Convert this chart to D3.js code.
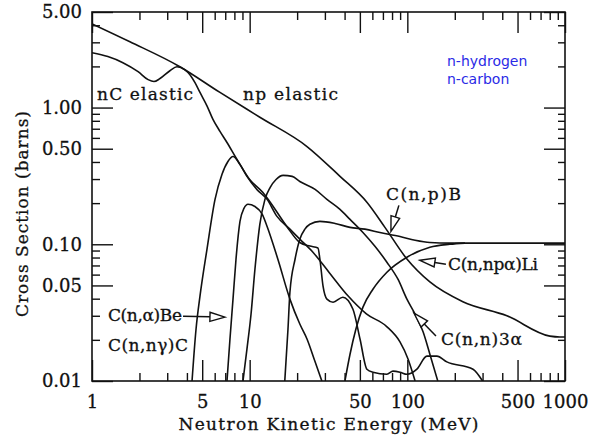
<!DOCTYPE html>
<html>
<head>
<meta charset="utf-8">
<script src="https://cdn.jsdelivr.net/npm/d3@7"></script>
<style>
  body { margin: 0; background: #fff; }
  text { font-family: "DejaVu Serif", "Liberation Serif", "Noto Serif", "FreeSerif", serif; fill: #111; stroke: #111; stroke-width: 0.3px; }
  .curve { fill: none; stroke: #111; stroke-width: 1.6px; }
  .tick line { stroke: #111; stroke-width: 1.4px; }
  .legend text { font-family: "DejaVu Sans", sans-serif; fill: #2a2ae6; stroke: none; font-size: 14px; }
</style>
</head>
<body>
<div id="chart"></div>
<script>
// Cross sections in barns vs neutron energy in MeV: [E, sigma]
var npElastic = [[1, 4.1], [1.74, 3.03], [3.61, 1.99], [6.48, 1.29], [11.6, 0.85], [23.1, 0.519],
  [37.4, 0.314], [55.4, 0.203], [72.1, 0.133], [99.4, 0.078], [139, 0.053], [225, 0.038],
  [428, 0.030], [802, 0.0213], [928, 0.021], [1000, 0.021]];

var nCElastic = [[1, 2.52], [1.26, 2.36], [1.57, 2.13], [1.96, 1.83], [2.27, 1.6], [2.47, 1.55],
  [2.7, 1.63], [3.12, 1.86], [3.46, 1.99], [3.89, 1.89], [4.18, 1.74], [4.5, 1.52], [4.84, 1.29],
  [5.36, 1.03], [5.85, 0.82], [6.48, 0.67], [7.18, 0.555], [8.31, 0.417], [10.0, 0.298],
  [12.1, 0.24], [13.5, 0.203], [17.2, 0.135], [20.8, 0.103], [24.1, 0.097], [27.1, 0.094],
  [27.9, 0.0777], [29.2, 0.0494], [30.9, 0.0397], [33.8, 0.0377], [39.0, 0.041], [45.2, 0.0335],
  [50.1, 0.0203], [55.4, 0.0122], [60.5, 0.0116], [74.2, 0.0112], [81.1, 0.0118], [89.8, 0.0116],
  [99.4, 0.0112], [115, 0.0122], [133, 0.0152], [154, 0.0152], [178, 0.0138], [261, 0.0122],
  [300, 0.01]];

var cnGamma = [[4.31, 0.01], [4.57, 0.024], [4.84, 0.0417], [5.36, 0.0919], [6.03, 0.213],
  [6.67, 0.324], [7.28, 0.4035], [7.84, 0.439], [8.68, 0.384], [9.61, 0.314], [11.1, 0.252],
  [12.9, 0.213], [14.9, 0.16], [18.0, 0.129], [20.8, 0.109], [25.2, 0.0874], [32, 0.062],
  [42, 0.042], [55, 0.031], [74, 0.025], [89.8, 0.0193], [101, 0.0145], [112, 0.01]];

var cAlphaBe = [[7.18, 0.01], [7.5, 0.0203], [7.84, 0.0397], [8.19, 0.0777], [8.68, 0.147],
  [9.2, 0.183], [9.76, 0.196], [10.8, 0.189], [12.0, 0.166], [12.9, 0.135], [15.1, 0.0777],
  [18.0, 0.0397], [20.8, 0.0261], [23.1, 0.0203], [25.9, 0.014], [28.7, 0.01]];

var cn3Alpha = [[9.07, 0.01], [9.61, 0.0171], [10.2, 0.0308], [10.8, 0.0657], [11.6, 0.14],
  [12.5, 0.213], [13.5, 0.261], [14.7, 0.298], [16.3, 0.319], [18.6, 0.314], [20.8, 0.288],
  [26.0, 0.252], [30.9, 0.213], [37.4, 0.18], [43.3, 0.152], [52.3, 0.122], [62.3, 0.0967],
  [74.2, 0.0739], [87.2, 0.0555], [99.4, 0.0397], [112, 0.0308], [126, 0.0228], [139, 0.0157],
  [156, 0.01]];

var cnpB = [[16.7, 0.01], [17.5, 0.024], [18.0, 0.0446], [19.4, 0.0777], [20.8, 0.109],
  [22.4, 0.129], [24.1, 0.14], [27.9, 0.147], [34.8, 0.142], [43.3, 0.133], [53.8, 0.129],
  [67, 0.122], [89.8, 0.114], [112, 0.107], [139, 0.103], [186, 0.102], [1000, 0.102]];

var cnpaLi = [[40.2, 0.01], [43.3, 0.0157], [47.2, 0.024], [52.3, 0.0347], [60.5, 0.0469],
  [74.2, 0.0625], [99.4, 0.0804], [139, 0.0951], [186, 0.1], [232, 0.102]];

var curves = [npElastic, nCElastic, cnGamma, cAlphaBe, cn3Alpha, cnpB, cnpaLi];

// labels: text, E, sigma at text start / baseline
var labels = [
  ["nC elastic", 1.076, 1.144], ["np elastic", 9.07, 1.144], ["C(n,p)B", 73.1, 0.2095],
  ["C(n,npα)Li", 180.9, 0.0646], ["C(n,n)3α", 163.3, 0.0183],
  ["C(n,α)Be", 1.263, 0.0274], ["C(n,nγ)C", 1.263, 0.01656]];
var labelWidths = [96, 95, 75, 90, 81, 74, 80];

// arrows: tail [E, sigma], tip [E, sigma]
var arrows = [
  [[3.78, 0.0298], [6.97, 0.0293]], [[88.4, 0.1926], [78.7, 0.1244]],
  [[175.7, 0.0715], [120.2, 0.0764]], [[151.9, 0.0213], [110.1, 0.0314]]];

var xMajor = [1, 5, 10, 50, 100, 500, 1000];
var xMinor = [2, 3, 4, 6, 7, 8, 9, 20, 30, 40, 60, 70, 80, 90, 200, 300, 400, 600, 700, 800, 900];
var yMajor = [0.01, 0.05, 0.1, 0.5, 1, 5];
var yMinor = [0.02, 0.03, 0.04, 0.06, 0.07, 0.08, 0.09, 0.2, 0.3, 0.4, 0.6, 0.7, 0.8, 0.9, 2, 3, 4];
var yTickText = {0.01: "0.01", 0.05: "0.05", 0.1: "0.10", 0.5: "0.50", 1: "1.00", 5: "5.00"};
var legendText = ["n-hydrogen", "n-carbon"];

var svgWidth = 591;
var svgHeight = 437;
var margin = { top: 12, right: 26, bottom: 56, left: 92 };
var width = svgWidth - margin.left - margin.right;
var height = svgHeight - margin.top - margin.bottom;

var svg = d3.select("#chart").append("svg")
  .attr("width", svgWidth)
  .attr("height", svgHeight);

var chartGroup = svg.append("g")
  .attr("transform", `translate(${margin.left}, ${margin.top})`);

var xScale = d3.scaleLog().domain([1, 1000]).range([0, width]);
var yScale = d3.scaleLog().domain([0.01, 5]).range([height, 0]);

// axes, ticks pointing inward on all four sides
function addAxis(axis, vals, size, fmt, transform) {
  var g = chartGroup.append("g")
    .attr("transform", transform)
    .call(axis.tickValues(vals).tickSize(-size).tickSizeOuter(0).tickFormat(fmt));
  g.select(".domain").remove();
  return g;
}

var none = () => "";
addAxis(d3.axisBottom(xScale).tickPadding(14), xMajor, 21, d3.format("d"), `translate(0, ${height})`);
addAxis(d3.axisBottom(xScale), xMinor, 8, none, `translate(0, ${height})`);
addAxis(d3.axisTop(xScale), xMajor, 21, none, "translate(0, 0)");
addAxis(d3.axisTop(xScale), xMinor, 8, none, "translate(0, 0)");
addAxis(d3.axisLeft(yScale).tickPadding(10), yMajor, 21, d => yTickText[d], "translate(0, 0)");
addAxis(d3.axisLeft(yScale), yMinor, 8, none, "translate(0, 0)");
addAxis(d3.axisRight(yScale), yMajor, 21, none, `translate(${width}, 0)`);
addAxis(d3.axisRight(yScale), yMinor, 7, none, `translate(${width}, 0)`);

chartGroup.selectAll(".tick text")
  .style("font-size", "18px")
  .style("font-family", null);

chartGroup.append("rect")
  .attr("width", width)
  .attr("height", height)
  .attr("fill", "none")
  .attr("stroke", "#111")
  .attr("stroke-width", 1.6);

// curves
chartGroup.append("clipPath").attr("id", "clip")
  .append("rect").attr("width", width).attr("height", height);

var line = d3.line()
  .x(d => xScale(d[0]))
  .y(d => yScale(d[1]))
  .curve(d3.curveMonotoneX);

chartGroup.append("g")
  .attr("clip-path", "url(#clip)")
  .selectAll("path")
  .data(curves)
  .enter()
  .append("path")
  .attr("class", "curve")
  .attr("d", line);

// labels
chartGroup.selectAll(".lbl")
  .data(labels)
  .enter()
  .append("text")
  .attr("class", "lbl")
  .attr("x", d => xScale(d[1]))
  .attr("y", d => yScale(d[2]))
  .attr("textLength", (d, i) => labelWidths[i])
  .attr("lengthAdjust", "spacing")
  .style("font-size", "17px")
  .text(d => d[0]);

// arrows with open heads
arrows.forEach(a => {
  var x0 = xScale(a[0][0]), y0 = yScale(a[0][1]);
  var x1 = xScale(a[1][0]), y1 = yScale(a[1][1]);
  var len = Math.hypot(x1 - x0, y1 - y0);
  var ux = (x1 - x0) / len, uy = (y1 - y0) / len;
  var headL = 15, headW = 4.5;
  var bx = x1 - ux * headL, by = y1 - uy * headL;
  chartGroup.append("line")
    .attr("x1", x0).attr("y1", y0)
    .attr("x2", bx).attr("y2", by)
    .attr("stroke", "#111").attr("stroke-width", 1.5);
  chartGroup.append("path")
    .attr("d", `M${x1},${y1}L${bx - uy * headW},${by + ux * headW}L${bx + uy * headW},${by - ux * headW}Z`)
    .attr("fill", "#fff").attr("stroke", "#111").attr("stroke-width", 1.4);
});

// axis titles
svg.append("text")
  .attr("x", margin.left + width / 2)
  .attr("y", 430)
  .attr("text-anchor", "middle")
  .attr("textLength", 300)
  .attr("lengthAdjust", "spacing")
  .style("font-size", "17px")
  .text("Neutron Kinetic Energy (MeV)");

svg.append("text")
  .attr("transform", "translate(28, 214) rotate(-90)")
  .attr("text-anchor", "middle")
  .attr("textLength", 206)
  .attr("lengthAdjust", "spacing")
  .style("font-size", "17px")
  .text("Cross Section (barns)");

// blue legend text
var legend = svg.append("g").attr("class", "legend");
legend.selectAll("text")
  .data(legendText)
  .enter()
  .append("text")
  .attr("x", 447)
  .attr("y", (d, i) => 66 + i * 18)
  .text(d => d);
</script>
</body>
</html>
